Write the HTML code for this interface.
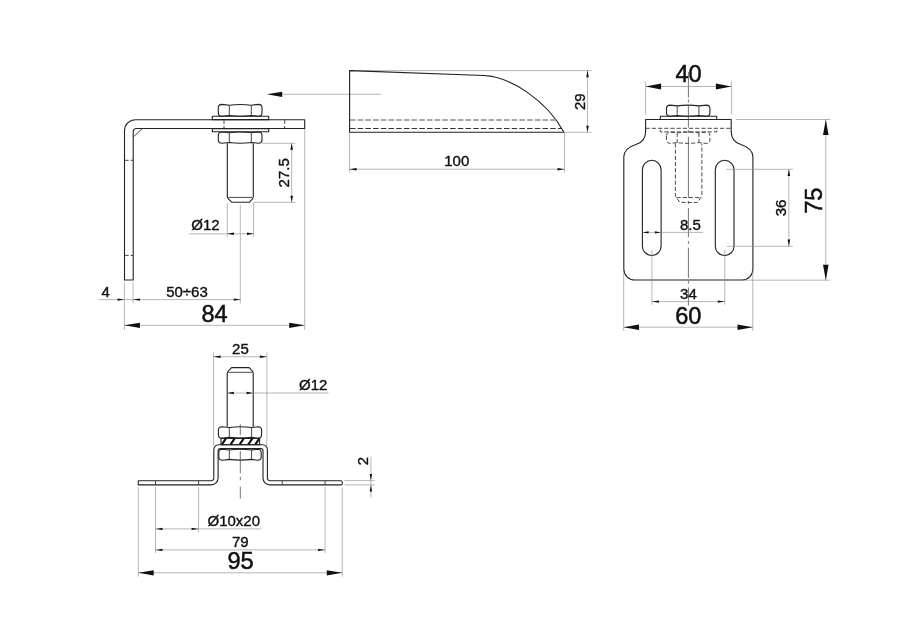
<!DOCTYPE html>
<html><head><meta charset="utf-8"><title>drawing</title>
<style>
html,body{margin:0;padding:0;background:#fff;}
body{width:900px;height:635px;overflow:hidden;}
svg{display:block;will-change:transform;opacity:0.999;}
text{font-family:"Liberation Sans",sans-serif;fill:#111;}
.s{font-size:15px;stroke:#111;stroke-width:0.38px;}
.b{font-size:23.6px;stroke:#111;stroke-width:0.5px;}
.k{fill:none;stroke:#222;stroke-width:1.1;stroke-linejoin:round;stroke-linecap:butt;}
.k2{fill:none;stroke:#333;stroke-width:0.9;}
.n{fill:none;stroke:#888;stroke-width:0.62;}
.c{fill:none;stroke:#444;stroke-width:0.75;}
.d{fill:none;stroke:#2a2a2a;stroke-width:0.85;stroke-dasharray:4.2 2;}
.a{fill:#111;stroke:none;}
</style></head><body>
<svg width="900" height="635" viewBox="0 0 900 635">
<rect width="900" height="635" fill="#fff"/>

<!-- ============ VIEW 1 : side ============ -->
<g id="v1">
<path class="k" d="M304.7,119.7 H135.5 A11,11 0 0 0 124.5,130.7 V280 H133.2 V132 A3.5,3.5 0 0 1 136.7,128.5 H304.7 Z"/>
<path class="k2" d="M133.2,137 L142.5,128.5"/>
<path class="d" d="M124.5,160.3 H133.2 M124.5,255.4 H133.2"/>
<path class="d" d="M224,119.7 V128.5 M284.7,119.7 V128.5"/>
<!-- top nut -->
<path class="k" d="M218.3,107.6 Q218.3,104.6 221.9,104.4 L229.3,105.2 Q240.3,103.7 251.3,105.2 L258.4,104.4 Q262,104.6 262,107.6 V113.1 Q262,116.1 258.4,116.3 L251.3,115.5 Q240.3,117.0 229.3,115.5 L221.9,116.3 Q218.3,116.1 218.3,113.1 Z" fill="#fff"/>
<path class="k2" d="M229.3,105.2 V115.5 M251.3,105.2 V115.5"/>
<!-- washers -->
<rect class="k" x="212.3" y="116.3" width="56.4" height="3.3" fill="#fff"/>
<rect class="k" x="212.3" y="128.7" width="56.4" height="3"/>
<!-- lower nut -->
<path class="k" d="M218.3,135.2 Q218.3,132.2 221.9,132 L229.3,132.8 Q240.3,131.3 251.3,132.8 L258.4,132 Q262,132.2 262,135.2 V140.1 Q262,143.1 258.4,143.3 L251.3,142.5 Q240.3,144.0 229.3,142.5 L221.9,143.3 Q218.3,143.1 218.3,140.1 Z" fill="#fff"/>
<path class="k2" d="M229.3,132.8 V142.5 M251.3,132.8 V142.5"/>
<!-- pin -->
<path class="k" d="M227.3,143.3 V196.3 Q227.3,198 228.6,199.2 L232,202.3 H249.3 L252.2,199.2 Q253.3,198 253.3,196.3 V143.3"/>
<path class="k2" d="M228.6,197.4 H252.2"/>
<!-- dim 27.5 -->
<path class="n" d="M262,143.3 H295.3 M253.5,202.3 H295.3 M291.7,143.3 V202.3"/>
<path class="a" d="M291.7,143.3 l-1.3,6.5 h2.6 z M291.7,202.3 l-1.3,-6.5 h2.6 z"/>
<text class="s" transform="translate(288.8,172.8) rotate(-90)" text-anchor="middle">27.5</text>
<!-- dim Ø12 -->
<path class="n" d="M227.3,203 V236.7 M253.6,203 V236.7 M189,233.8 H253.6 M240.3,204.7 V303.3"/>
<path class="a" d="M227.3,233.8 l6.6,-1.2 v2.4 z M253.6,233.8 l-6.6,-1.2 v2.4 z"/>
<text class="s" x="191.3" y="230">Ø12</text>
<!-- dim 4 / 50÷63 -->
<path class="n" d="M124.4,282.3 V330 M133.1,282.3 V303.3 M98.7,299.6 H240.6"/>
<path class="a" d="M124.4,299.6 l-6.8,-1.2 v2.4 z M133.1,299.6 l6.8,-1.2 v2.4 z M240.6,299.6 l-6.8,-1.2 v2.4 z"/>
<text class="s" x="101.6" y="296.7">4</text>
<text class="s" x="166.2" y="296.7">50÷63</text>
<!-- dim 84 -->
<path class="n" d="M304.7,129 V330 M124.4,325.3 H304.7"/>
<path class="a" d="M124.4,325.3 l15.5,-2.6 v5.2 z M304.7,325.3 l-15.5,-2.6 v5.2 z"/>
<text class="b" transform="translate(214.5,322.2) scale(1,1.03)" text-anchor="middle">84</text>
<!-- view arrow -->
<path class="n" d="M282,94.3 H381.2"/>
<path class="a" d="M266.7,94.3 l15.5,-2.6 v5.2 z"/>
</g>

<!-- ============ VIEW 2 : wedge ============ -->
<g id="v2">
<path class="n" d="M349.6,70.6 H591.4 M564.2,132.3 H591.4 M587.5,70.6 V132.3 M349.6,133 V172.7 M564.5,133 V172.7 M349.6,169.2 H564.5"/>
<path class="k" d="M349.6,70.6 V132.3 H563.9 C547,100.5 510,76.6 484,75.5 L349.6,70.6 Z"/>
<path d="M350,120 H556" fill="none" stroke="#8c8c8c" stroke-width="1.6" stroke-dasharray="5.5 2.2"/>
<path d="M350,128.5 H561.5" fill="none" stroke="#333" stroke-width="1" stroke-dasharray="5.5 2.2"/>
<path class="a" d="M587.5,70.6 l-1.3,6.6 h2.6 z M587.5,132.3 l-1.3,-6.6 h2.6 z"/>
<text class="s" transform="translate(584.6,101.7) rotate(-90)" text-anchor="middle">29</text>
<path class="a" d="M349.6,169.2 l7,-1.2 v2.4 z M564.5,169.2 l-7,-1.2 v2.4 z"/>
<text class="s" x="456.8" y="166.3" text-anchor="middle">100</text>
</g>

<!-- ============ VIEW 3 : front ============ -->
<g id="v3">
<path class="k" d="M645.6,119.5 H731.2 V131.5 C731.2,138 734.3,142.3 740.3,144.2 C746.3,146.1 752.9,149.5 752.9,157 V269 A11,11 0 0 1 741.9,280 H634.8 A11,11 0 0 1 623.8,269 V157 C623.8,149.5 630.5,146.1 636.5,144.2 C642.5,142.3 645.6,138 645.6,131.5 Z"/>
<path class="d" d="M645.6,128.3 H731.2"/>
<!-- top nut & washer -->
<path class="k" d="M666.5,108.3 Q666.5,105.3 670.1,105.1 L677.2,105.9 Q688.0,104.4 698.9,105.9 L706.3,105.1 Q709.9,105.3 709.9,108.3 V113.1 Q709.9,116.1 706.3,116.3 L698.9,115.5 Q688.0,117.0 677.2,115.5 L670.1,116.3 Q666.5,116.1 666.5,113.1 Z" fill="#fff"/>
<path class="k2" d="M677.2,105.9 V115.5 M698.9,105.9 V115.5"/>
<rect class="k" x="660.3" y="116.3" width="56.4" height="3.2"/>
<!-- hidden washer / nut / pin -->
<path class="d" d="M660.3,129.7 V131.9 H716.7 V129.7"/>
<path class="d" d="M666.5,135.3 Q666.5,132.3 670.1,132.1 L677.2,132.9 Q688.0,131.4 698.9,132.9 L706.3,132.1 Q709.9,132.3 709.9,135.3 V140.2 Q709.9,143.2 706.3,143.4 L698.9,142.6 Q688.0,144.1 677.2,142.6 L670.1,143.4 Q666.5,143.2 666.5,140.2 Z" fill="#fff"/>
<path class="d" d="M677.2,132.9 V142.6 M698.9,132.9 V142.6"/>
<path class="d" d="M675.4,143.4 V196.3 L679.9,202.4 H697.4 L701.9,196.3 V143.4 M676.5,197.6 H700.8"/>
<!-- centre line -->
<path class="c" d="M688.4,72 V97.5 M688.4,99.5 V102.4 M688.4,105.4 V127.6 M688.4,130 V133 M688.4,136.8 V198 M688.4,201 V204 M688.4,208 V237.3 M688.4,241 V244 M688.4,247.7 V278 M688.4,280.7 V283.6 M688.4,287.4 V305.5"/>
<!-- slots -->
<rect class="k" x="642.4" y="160.3" width="18.7" height="95.2" rx="9.35"/>
<rect class="k" x="715.3" y="160.3" width="18.7" height="95.2" rx="9.35"/>
<!-- dim 40 -->
<path class="n" d="M645.6,81.7 V114.6 M731.4,81.7 V114.6 M645.6,86.5 H731.4"/>
<path class="a" d="M645.6,86.5 l15.5,-2.9 v5.8 z M731.4,86.5 l-15.5,-2.9 v5.8 z"/>
<text class="b" transform="translate(688.6,82) scale(1,1.03)" text-anchor="middle">40</text>
<!-- dim 75 -->
<path class="n" d="M735.7,119.5 H830.2 M745,280.2 H830.2 M825.8,119.5 V280.2"/>
<path class="a" d="M825.8,119.5 l-2.8,15.5 h5.6 z M825.8,280.2 l-2.8,-15.5 h5.6 z"/>
<text class="b" transform="translate(822.3,200.7) rotate(-90) scale(1,1.03)" text-anchor="middle">75</text>
<!-- dim 36 -->
<path class="n" d="M726.4,169.3 H793 M726.8,246.3 H793 M788.9,169.3 V246.3"/>
<path class="a" d="M788.9,169.3 l-1.3,6.8 h2.6 z M788.9,246.3 l-1.3,-6.8 h2.6 z"/>
<text class="s" transform="translate(786.4,208) rotate(-90)" text-anchor="middle">36</text>
<!-- dim 8.5 -->
<path class="n" d="M642.4,232.4 H703"/>
<path class="a" d="M642.6,232.4 l6,-1.1 v2.2 z M660.9,232.4 l-6,-1.1 v2.2 z"/>
<text class="s" x="690.4" y="229.8" text-anchor="middle">8.5</text>
<!-- dim 34 -->
<path class="n" d="M651.9,249.6 V304.7 M724.8,249.6 V304.7 M651.9,301.6 H724.8"/>
<path class="a" d="M651.9,301.6 l7,-1.2 v2.4 z M724.8,301.6 l-7,-1.2 v2.4 z"/>
<text class="s" x="688.4" y="298.5" text-anchor="middle">34</text>
<!-- dim 60 -->
<path class="n" d="M623.7,270.5 V331 M752.8,270.5 V331 M623.7,327.2 H752.8"/>
<path class="a" d="M623.7,327.2 l15.3,-2.7 v5.4 z M752.8,327.2 l-15.3,-2.7 v5.4 z"/>
<text class="b" transform="translate(688.3,323.7) scale(1,1.03)" text-anchor="middle">60</text>
</g>

<!-- ============ VIEW 4 : bottom ============ -->
<g id="v4">
<!-- ext lines -->
<path class="n" d="M213.6,352.3 V446 M266.9,352.3 V446 M213.6,356.7 H266.9"/>
<path class="a" d="M213.6,356.7 l7,-1.2 v2.4 z M266.9,356.7 l-7,-1.2 v2.4 z"/>
<text class="s" x="240.4" y="353.7" text-anchor="middle">25</text>
<!-- pin -->
<path class="k" d="M227.2,426.7 V373.6 Q227.2,372 228.4,370.8 L231.6,367.6 H249.2 L252.2,370.8 Q253.2,372 253.2,373.6 V426.7"/>
<path class="k2" d="M228.4,372.3 H252.2"/>
<!-- Ø12 -->
<path class="n" d="M227.2,393 H328.6"/>
<path class="a" d="M227.4,393 l6.4,-1.2 v2.4 z M253,393 l-6.4,-1.2 v2.4 z"/>
<text class="s" x="299.1" y="389.9">Ø12</text>
<!-- top nut -->
<path class="k" d="M218.4,429.9 Q218.4,426.9 222.0,426.7 L229.3,427.5 Q240.4,426.0 251.6,427.5 L258.0,426.7 Q261.6,426.9 261.6,429.9 V435.0 Q261.6,438.0 258.0,438.2 L251.6,437.4 Q240.4,438.9 229.3,437.4 L222.0,438.2 Q218.4,438.0 218.4,435.0 Z" fill="#fff"/>
<path class="k2" d="M229.3,427.5 V437.4 M251.6,427.5 V437.4"/>
<!-- hatched washer -->
<rect class="k" x="221" y="438.4" width="38.6" height="6.3"/>
<path d="M221.8,444.6 l4.2,-6.2 M230.5,444.6 l4.2,-6.2 M239.6,444.6 l4.2,-6.2 M248.2,444.6 l4.2,-6.2 M255.2,444.6 l4.2,-6.2" fill="none" stroke="#111" stroke-width="2.1"/>
<!-- lower nut -->
<path class="k" d="M218.8,452.4 Q218.8,449.4 222.4,449.2 L229.3,450.0 Q240.4,448.5 251.6,450.0 L257.6,449.2 Q261.2,449.4 261.2,452.4 V457.0 Q261.2,460.0 257.6,460.2 L251.6,459.4 Q240.4,460.9 229.3,459.4 L222.4,460.2 Q218.8,460.0 218.8,457.0 Z" fill="#fff"/>
<path class="k2" d="M229.3,450.0 V459.4 M251.6,450.0 V459.4"/>
<!-- hat bracket -->
<path class="k" d="M138.3,480.7 H211.3 A2.5,2.5 0 0 0 213.8,478.2 V449.7 A5,5 0 0 1 218.8,444.7 H262.4 A5,5 0 0 1 267.4,449.7 V478.2 A2.5,2.5 0 0 0 269.9,480.7 H341.3 Q342.4,480.7 342.4,482.8 Q342.4,484.9 341.3,484.9 H269.8 A6.8,6.8 0 0 1 263,478.1 V450.6 A2,2 0 0 0 261,448.6 H220.1 A2,2 0 0 0 218.1,450.6 V478.1 A6.8,6.8 0 0 1 211.3,484.9 H138.3 Z"/>
<path class="k2" d="M155.5,480.7 V484.9 M198.6,480.7 V484.9 M282.2,480.7 V484.9 M325.1,480.7 V484.9"/>
<!-- centre line -->
<path class="c" d="M240.3,424.2 V434.9 M240.3,451.2 V473.2 M240.3,476.7 V480.2 M240.3,486.6 V498.7"/>
<!-- lower dims -->
<path class="n" d="M138.3,487 V576.6 M155.5,487 V553 M198.6,487 V532 M325.1,487 V553 M342.2,488 V576.6"/>
<path class="n" d="M155.5,528.9 H261.3 M155.5,549.9 H325.1 M138.3,572.8 H342.2"/>
<path class="a" d="M155.5,528.9 l7,-1.2 v2.4 z M198.6,528.9 l-7,-1.2 v2.4 z"/>
<text class="s" x="207.5" y="525.6">Ø10x20</text>
<path class="a" d="M155.5,549.9 l7,-1.2 v2.4 z M325.1,549.9 l-7,-1.2 v2.4 z"/>
<text class="s" x="240.3" y="546.8" text-anchor="middle">79</text>
<path class="a" d="M138.3,572.8 l15.4,-2.6 v5.2 z M342.2,572.8 l-15.4,-2.6 v5.2 z"/>
<text class="b" transform="translate(240.5,568.9) scale(1,1.03)" text-anchor="middle">95</text>
<!-- dim 2 -->
<path class="n" d="M344.4,480.6 H374.6 M344.4,484.9 H374.6 M370.9,456.5 V497.8"/>
<path class="a" d="M370.9,480.6 l-1.2,-6.6 h2.4 z M370.9,484.9 l-1.2,6.6 h2.4 z"/>
<text class="s" transform="translate(367.5,461.2) rotate(-90)" text-anchor="middle">2</text>
</g>
</svg>
</body></html>
